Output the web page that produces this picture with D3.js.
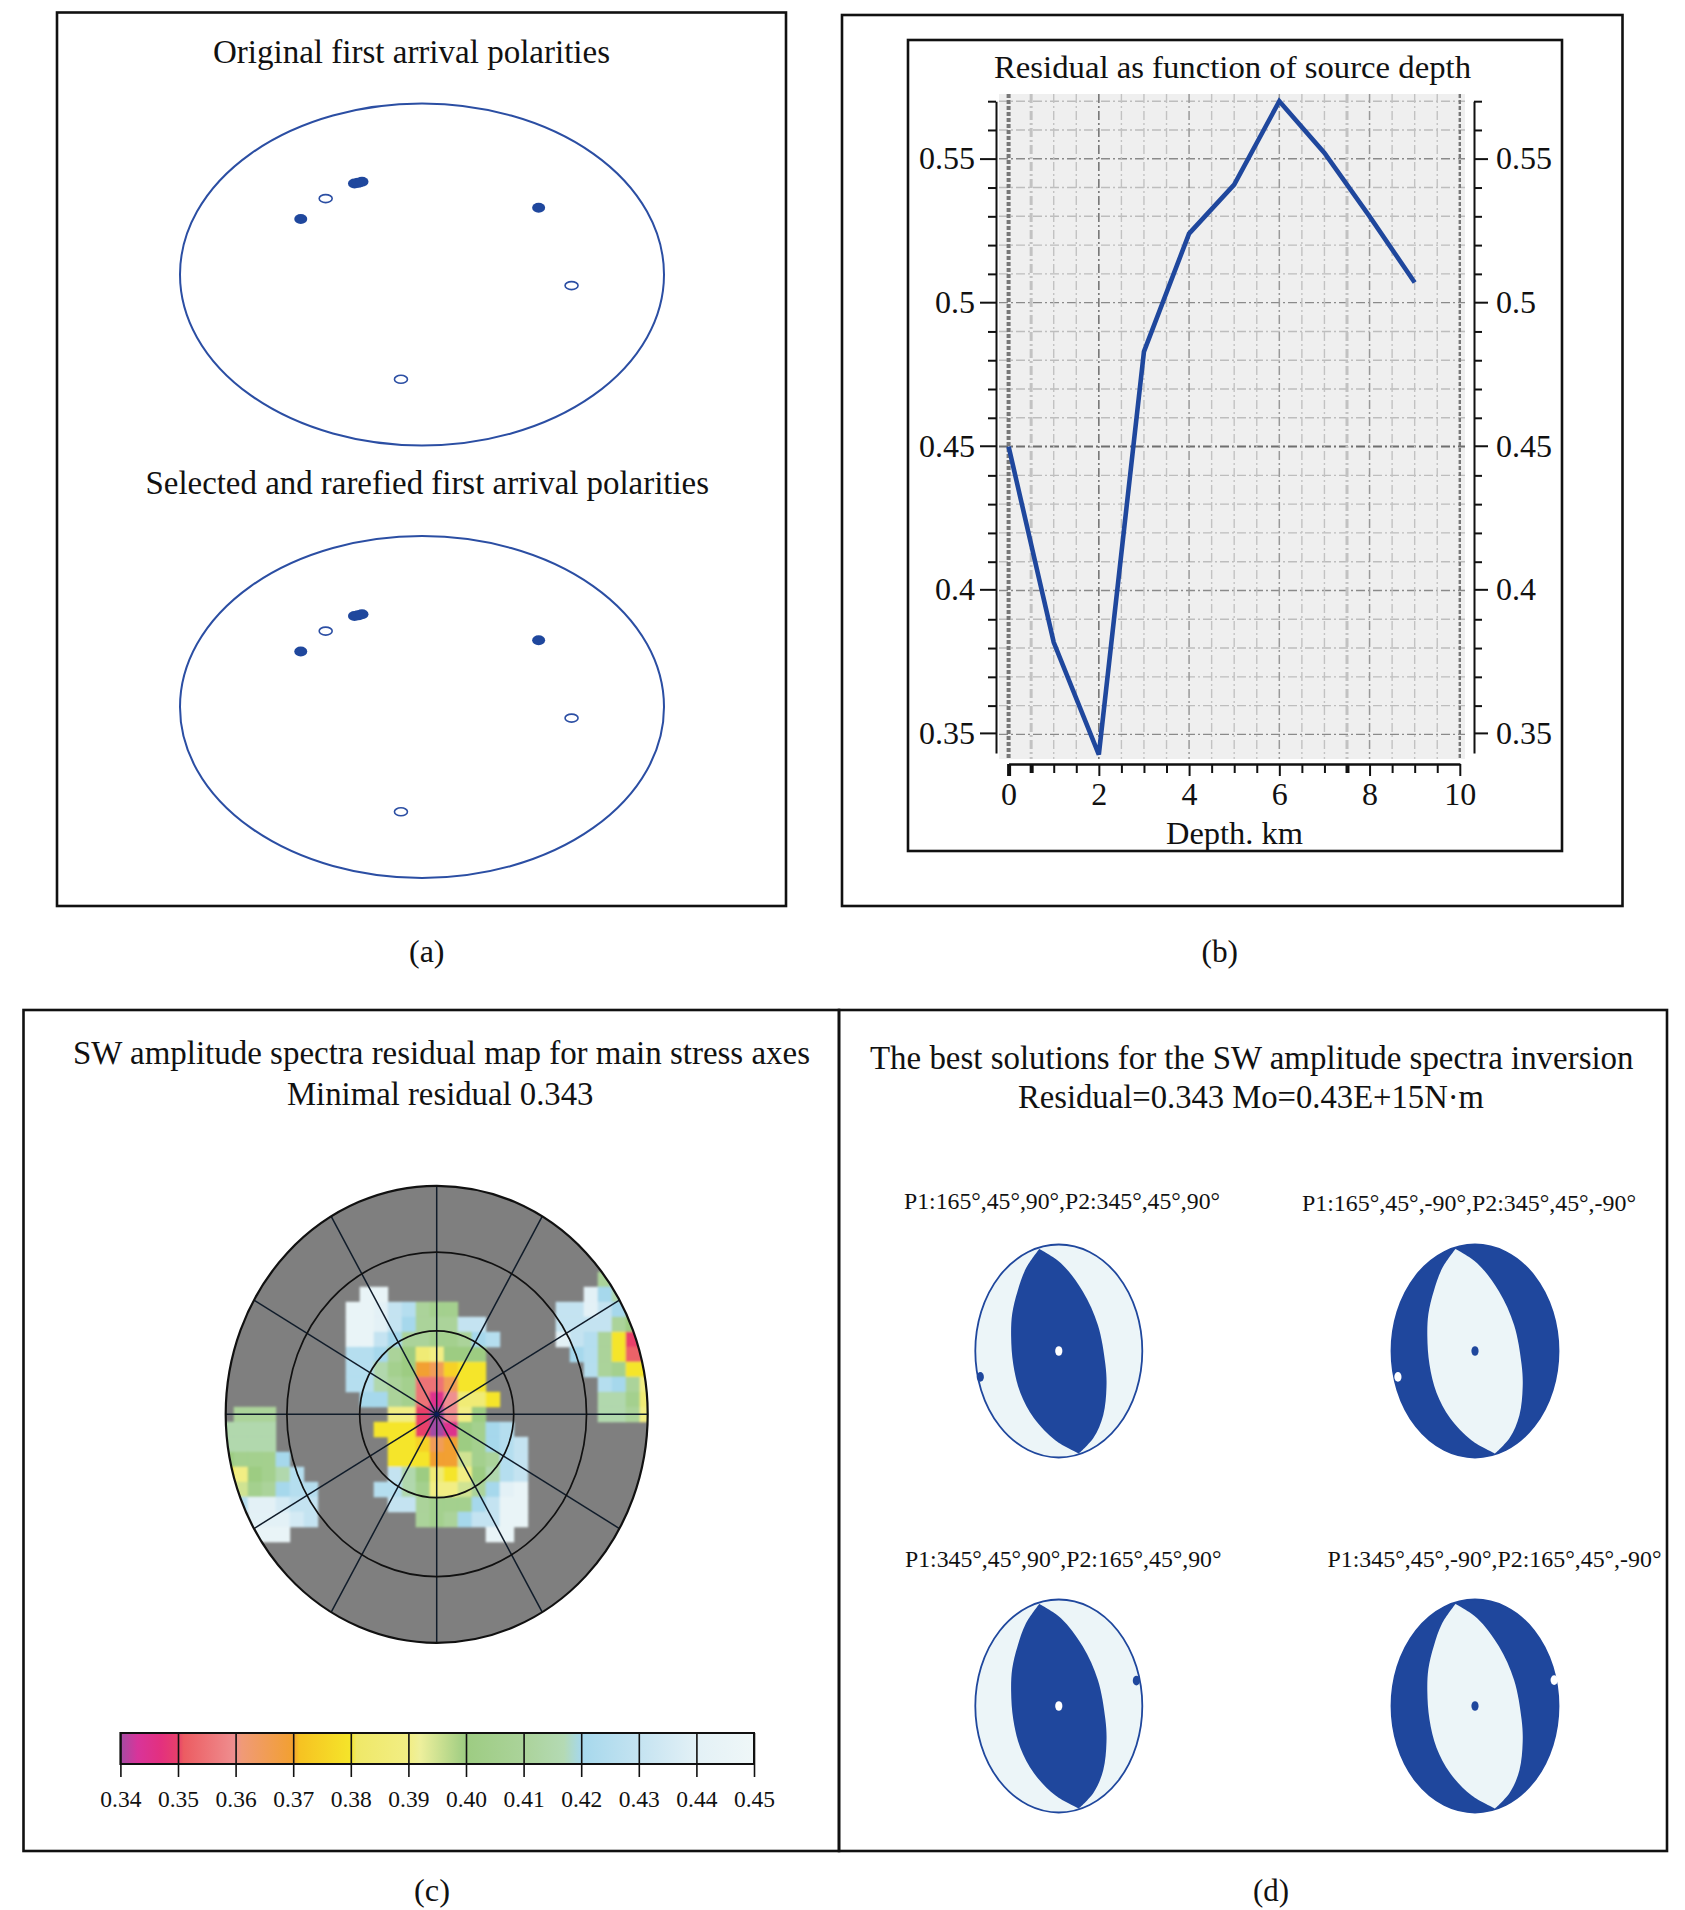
<!DOCTYPE html>
<html>
<head>
<meta charset="utf-8">
<style>
  body { margin: 0; background: #fff; }
  svg { display: block; }
  text { font-family: "Liberation Serif", serif; fill: #111; }
</style>
<script src="https://cdn.jsdelivr.net/npm/d3@7"></script>
</head>
<body>
<div id="chart"></div>
<script>
// panel a: polarities in unit stereonet coordinates
const filledPolarities = [[-0.501, 0.325], [-0.279, 0.532], [-0.264, 0.536], [-0.248, 0.542], [0.482, 0.39]];
const openPolarities = [[-0.398, 0.444], [0.618, -0.065], [-0.087, -0.613]];

// panel b
const depths = [0, 1, 2, 3, 4, 5, 6, 7, 8, 9];
const residuals = [0.45, 0.382, 0.343, 0.483, 0.524, 0.541, 0.57, 0.552, 0.53, 0.507];
const yMajorTicks = [0.35, 0.4, 0.45, 0.5, 0.55];
const yMinorTicks = [0.36, 0.37, 0.38, 0.39, 0.41, 0.42, 0.43, 0.44, 0.46, 0.47, 0.48, 0.49, 0.51, 0.52, 0.53, 0.54, 0.56, 0.57];
const xLabelTicks = [0, 2, 4, 6, 8, 10];
const xMinorTicks = [0.5, 1, 1.5, 2.5, 3, 3.5, 4.5, 5, 5.5, 6.5, 7, 7.5, 8.5, 9, 9.5];

// panel c: runs of residual cells as [row, first column, values]
const residualRuns = [
  [-9, 12, [0.41]],
  [-8, -5, [0.445, 0.445]], [-8, 11, [0.44, 0.42, 0.415]],
  [-7, -6, [0.445, 0.445, 0.44, 0.43, 0.425, 0.41, 0.405, 0.405]], [-7, 9, [0.43, 0.43, 0.44, 0.43, 0.42, 0.41]],
  [-6, -6, [0.445, 0.445, 0.44, 0.43, 0.42, 0.41, 0.41, 0.41, 0.43, 0.43]], [-6, 9, [0.43, 0.43, 0.43, 0.43, 0.41, 0.4]],
  [-5, -6, [0.445, 0.445, 0.43, 0.42, 0.41, 0.41, 0.405, 0.405, 0.41, 0.42, 0.425]], [-5, 9, [0.44, 0.43, 0.425, 0.41, 0.38, 0.35, 0.35]],
  [-4, -6, [0.425, 0.425, 0.42, 0.41, 0.4, 0.385, 0.39, 0.4, 0.4, 0.4]], [-4, 10, [0.42, 0.425, 0.41, 0.38, 0.352, 0.352]],
  [-3, -6, [0.425, 0.425, 0.415, 0.405, 0.4, 0.37, 0.365, 0.375, 0.38, 0.38]], [-3, 11, [0.425, 0.41, 0.405, 0.38, 0.38]],
  [-2, -6, [0.425, 0.425, 0.415, 0.41, 0.405, 0.355, 0.355, 0.365, 0.38, 0.38]], [-2, 12, [0.425, 0.42, 0.41, 0.39]],
  [-1, -5, [0.42, 0.42, 0.41, 0.405, 0.355, 0.345, 0.36, 0.385, 0.385, 0.38]], [-1, 12, [0.415, 0.415, 0.405, 0.385]],
  [0, -14, [0.41, 0.41, 0.41]], [0, -3, [0.39, 0.39, 0.35, 0.34, 0.36, 0.39, 0.4]], [0, 12, [0.415, 0.415, 0.41, 0.39]],
  [1, -15, [0.415, 0.415, 0.415, 0.415]], [1, -4, [0.38, 0.38, 0.38, 0.35, 0.34, 0.345, 0.4, 0.405, 0.42, 0.425]],
  [2, -15, [0.415, 0.415, 0.415, 0.415]], [2, -3, [0.38, 0.38, 0.375, 0.365, 0.37, 0.4, 0.405, 0.42, 0.425, 0.43]],
  [3, -15, [0.4, 0.405, 0.405, 0.405, 0.42]], [3, -3, [0.38, 0.38, 0.38, 0.37, 0.37, 0.395, 0.405, 0.41, 0.425, 0.43]],
  [4, -15, [0.38, 0.39, 0.4, 0.405, 0.415, 0.425]], [4, -3, [0.43, 0.415, 0.4, 0.385, 0.38, 0.39, 0.4, 0.415, 0.425, 0.43]],
  [5, -15, [0.385, 0.395, 0.405, 0.41, 0.42, 0.425, 0.425]], [5, -4, [0.425, 0.425, 0.415, 0.405, 0.39, 0.39, 0.395, 0.41, 0.42, 0.44, 0.445]],
  [6, -14, [0.425, 0.44, 0.44, 0.435, 0.43, 0.43]], [6, -3, [0.43, 0.43, 0.41, 0.405, 0.405, 0.405, 0.42, 0.43, 0.445, 0.445]],
  [7, -13, [0.44, 0.44, 0.44, 0.435, 0.43]], [7, -1, [0.41, 0.405, 0.41, 0.42, 0.43, 0.43, 0.445, 0.445]],
  [8, -13, [0.445, 0.445, 0.445]], [8, 4, [0.445, 0.445]]
];
const radialAngles = [0, 30, 60, 90, 120, 150, 180, 210, 240, 270, 300, 330];
const ringRadii = [0.365, 0.71, 1];
const scaleTicks = [0.34, 0.35, 0.36, 0.37, 0.38, 0.39, 0.4, 0.41, 0.42, 0.43, 0.44, 0.45];
const scaleStops = [0.34, 0.343, 0.347, 0.35, 0.351, 0.36, 0.361, 0.37, 0.371, 0.38, 0.381, 0.39, 0.392, 0.4, 0.41, 0.417, 0.42, 0.43, 0.44, 0.45];
const scaleColors = ['#a44ca4', '#d8349a', '#e3307f', '#e8406a', '#ec5c62', '#ef8f90', '#f09a78', '#f2a030', '#f6c222', '#f5e52a', '#efe868', '#f2ee84', '#eef09c', '#9dcc82', '#abd39a', '#b4dab4', '#a6d8ec', '#c4e3f1', '#e3f1f6', '#eff7f8'];

// panel d: nodal plane edges in unit circle coordinates
const lensLeftEdge = [[-0.234, 0.958], [-0.396, 0.772], [-0.494, 0.561], [-0.558, 0.349], [-0.571, 0.138], [-0.545, -0.127], [-0.461, -0.392], [-0.299, -0.63], [-0.039, -0.841], [0.24, -0.963]];
const lensRightEdge = [[-0.234, 0.958], [0.026, 0.825], [0.286, 0.561], [0.468, 0.243], [0.558, -0.127], [0.571, -0.339], [0.532, -0.603], [0.416, -0.815], [0.24, -0.963]];
const solutionLabels = [
  'P1:165°,45°,90°,P2:345°,45°,90°',
  'P1:165°,45°,-90°,P2:345°,45°,-90°',
  'P1:345°,45°,90°,P2:165°,45°,90°',
  'P1:345°,45°,-90°,P2:165°,45°,-90°'
];
const solutionDarkLens = [true, false, true, false];
const solutionSideDots = [[-0.94, -0.243], [-0.923, -0.243], [0.929, 0.238], [0.948, 0.243]];

const blue = '#1f479d';
const paleBlue = '#ecf5f8';

const svg = d3.select('#chart').append('svg')
  .attr('width', 1685)
  .attr('height', 1910);

// text squeezed to the measured width, the scan is not evenly scaled
function label(x0, x1, baseline, size, str) {
  svg.append('text')
    .attr('x', x0)
    .attr('y', baseline)
    .attr('textLength', x1 - x0)
    .attr('lengthAdjust', 'spacingAndGlyphs')
    .style('font-size', size + 'px')
    .text(str);
}

function frame(x0, y0, x1, y1) {
  svg.append('rect')
    .attr('x', x0).attr('y', y0)
    .attr('width', x1 - x0).attr('height', y1 - y0)
    .attr('fill', 'none').attr('stroke', '#111').attr('stroke-width', 2.6);
}

frame(57, 12.5, 786, 906);
frame(842, 15, 1622.5, 906);
frame(908, 40, 1562, 851);
frame(23.5, 1010, 839, 1851);
frame(839, 1010, 1667, 1851);

label(409, 444.5, 962, 31, '(a)');
label(1201.5, 1238, 962, 31, '(b)');
label(414, 450, 1901, 31, '(c)');
label(1253, 1289, 1901, 31, '(d)');

// ---- panel a
label(213, 610, 62.5, 33, 'Original first arrival polarities');
label(145.5, 709, 494, 33, 'Selected and rarefied first arrival polarities');

[274.5, 707].forEach(cy => {
  const x = d3.scaleLinear().domain([-1, 1]).range([422 - 242, 422 + 242]);
  const y = d3.scaleLinear().domain([-1, 1]).range([cy + 171, cy - 171]);
  const g = svg.append('g');
  g.append('ellipse')
    .attr('cx', x(0)).attr('cy', y(0))
    .attr('rx', x(1) - x(0)).attr('ry', y(-1) - y(0))
    .attr('fill', 'none').attr('stroke', '#2b4ea3').attr('stroke-width', 2);
  g.selectAll('.open').data(openPolarities).enter().append('ellipse')
    .attr('class', 'open')
    .attr('cx', d => x(d[0])).attr('cy', d => y(d[1]))
    .attr('rx', 6.5).attr('ry', 4)
    .attr('fill', '#fff').attr('stroke', '#2b4ea3').attr('stroke-width', 1.6);
  g.selectAll('.filled').data(filledPolarities).enter().append('ellipse')
    .attr('class', 'filled')
    .attr('cx', d => x(d[0])).attr('cy', d => y(d[1]))
    .attr('rx', 6.5).attr('ry', 5)
    .attr('fill', blue);
});

// ---- panel b
label(994, 1471, 78, 32, 'Residual as function of source depth');
label(1166, 1303, 844, 31, 'Depth. km');

const xDepth = d3.scaleLinear().domain([0, 10]).range([1008.6, 1459.8]);
const yRes = d3.scaleLinear().domain([0.35, 0.55]).range([734.4, 158.75]);

svg.append('rect')
  .attr('x', 999).attr('y', 94)
  .attr('width', 466).attr('height', 665)
  .attr('fill', '#efefef');

const grid = svg.append('g').attr('fill', 'none');
const vGrid = (v, color, w, dash) => grid.append('line')
  .attr('x1', xDepth(v)).attr('x2', xDepth(v))
  .attr('y1', 94).attr('y2', 759)
  .attr('stroke', color).attr('stroke-width', w).attr('stroke-dasharray', dash);
const hGrid = (v, color, w) => grid.append('line')
  .attr('x1', 999).attr('x2', 1465)
  .attr('y1', yRes(v)).attr('y2', yRes(v))
  .attr('stroke', color).attr('stroke-width', w).attr('stroke-dasharray', '9,3,2,3');

yMinorTicks.forEach(v => hGrid(v, '#bdbdbd', 1.4));
yMajorTicks.forEach(v => hGrid(v, v === 0.45 ? '#6f6f6f' : '#8a8a8a', v === 0.45 ? 2 : 1.4));
xMinorTicks.forEach(v => vGrid(v, '#c2c2c2', v === 0.5 || v === 7.5 ? 3 : 1.4, '9,3,2,3'));
xLabelTicks.forEach(v => {
  if (v === 0 || v === 10) vGrid(v, '#777', v === 0 ? 4 : 2.4, '4,2');
  else vGrid(v, v === 2 ? '#6f6f6f' : '#999', 1.5, '9,3,2,3');
});

function styleAxis(g) {
  g.select('.domain').attr('stroke', '#111').attr('stroke-width', 2);
  g.selectAll('.tick line').attr('stroke', '#111').attr('stroke-width', 2);
  g.selectAll('text').style('font-size', '32px').attr('fill', '#111')
    .style('font-family', '"Liberation Serif", serif');
}

const yDomainRange = [yRes(0.57), 753];
const yAxisScale = yRes.copy().domain([0.57, 0.343]).range(yDomainRange);

const leftMinor = svg.append('g').attr('transform', 'translate(996,0)')
  .call(d3.axisLeft(yRes).tickValues(yMinorTicks).tickFormat('').tickSize(8).tickSizeOuter(0));
leftMinor.select('.domain').remove();
styleAxis(leftMinor);
svg.append('g').attr('transform', 'translate(996,0)')
  .call(d3.axisLeft(yAxisScale).tickValues(yMajorTicks).tickFormat(d3.format('~g')).tickSize(16).tickSizeOuter(0).tickPadding(5))
  .call(styleAxis);

const rightMinor = svg.append('g').attr('transform', 'translate(1474,0)')
  .call(d3.axisRight(yRes).tickValues(yMinorTicks).tickFormat('').tickSize(8).tickSizeOuter(0));
rightMinor.select('.domain').remove();
styleAxis(rightMinor);
svg.append('g').attr('transform', 'translate(1474,0)')
  .call(d3.axisRight(yAxisScale).tickValues(yMajorTicks).tickFormat(d3.format('~g')).tickSize(14).tickSizeOuter(0).tickPadding(8))
  .call(styleAxis);

const bottomMinor = svg.append('g').attr('transform', 'translate(0,764)')
  .call(d3.axisBottom(xDepth).tickValues(xMinorTicks).tickFormat('').tickSize(9).tickSizeOuter(0));
styleAxis(bottomMinor);
const bottomMajor = svg.append('g').attr('transform', 'translate(0,764)')
  .call(d3.axisBottom(xDepth).tickValues(xLabelTicks).tickFormat(d3.format('d')).tickSize(12).tickSizeOuter(0).tickPadding(6))
  .call(styleAxis);
bottomMajor.selectAll('.tick line').attr('stroke-width', d => d === 0 ? 4 : 2);
bottomMinor.selectAll('.tick line').attr('stroke-width', d => d === 0.5 || d === 7.5 ? 4 : 2);

svg.append('path')
  .datum(d3.zip(depths, residuals))
  .attr('d', d3.line().x(d => xDepth(d[0])).y(d => yRes(d[1])))
  .attr('fill', 'none')
  .attr('stroke', blue)
  .attr('stroke-width', 4.6)
  .attr('stroke-linejoin', 'miter');

// ---- panel c
label(73, 810, 1064, 33, 'SW amplitude spectra residual map for main stress axes');
label(287, 593.5, 1105, 33, 'Minimal residual 0.343');

const mapX = d3.scaleLinear().domain([-15, 15]).range([436.7 - 210, 436.7 + 210]);
const mapY = d3.scaleLinear().domain([-15, 15]).range([1414.3 - 225, 1414.3 + 225]);
const mapR = d3.scaleLinear().domain([-1, 1]).range([436.7 - 211, 436.7 + 211]);
const mapS = d3.scaleLinear().domain([-1, 1]).range([1414.3 + 228.5, 1414.3 - 228.5]);
const residualColor = d3.scaleLinear().domain(scaleStops).range(scaleColors).clamp(true);

const defs = svg.append('defs');
defs.append('clipPath').attr('id', 'map-clip')
  .append('ellipse')
  .attr('cx', mapR(0)).attr('cy', mapS(0))
  .attr('rx', mapR(1) - mapR(0)).attr('ry', mapS(-1) - mapS(0));
defs.append('filter').attr('id', 'cell-blur')
  .append('feGaussianBlur').attr('stdDeviation', 1.3);

const cells = residualRuns.flatMap(([row, col, vals]) => vals.map((v, k) => ({ row, col: col + k, v })));
const mapG = svg.append('g').attr('clip-path', 'url(#map-clip)');
mapG.append('ellipse')
  .attr('cx', mapR(0)).attr('cy', mapS(0))
  .attr('rx', mapR(1) - mapR(0)).attr('ry', mapS(-1) - mapS(0))
  .attr('fill', '#7f7f7f');
mapG.append('g').attr('filter', 'url(#cell-blur)')
  .selectAll('rect').data(cells).enter().append('rect')
  .attr('x', d => mapX(d.col - 0.5))
  .attr('y', d => mapY(d.row - 0.5))
  .attr('width', mapX(1) - mapX(0) + 0.5)
  .attr('height', mapY(1) - mapY(0) + 0.5)
  .attr('fill', d => residualColor(d.v));

svg.selectAll('.spoke').data(radialAngles).enter().append('line')
  .attr('class', 'spoke')
  .attr('x1', mapR(0)).attr('y1', mapS(0))
  .attr('x2', d => mapR(Math.sin(d * Math.PI / 180)))
  .attr('y2', d => mapS(Math.cos(d * Math.PI / 180)))
  .attr('stroke', '#101c2a').attr('stroke-width', 1.5);
svg.selectAll('.ring').data(ringRadii).enter().append('ellipse')
  .attr('class', 'ring')
  .attr('cx', mapR(0)).attr('cy', mapS(0))
  .attr('rx', d => mapR(d) - mapR(0)).attr('ry', d => mapS(-d) - mapS(0))
  .attr('fill', 'none').attr('stroke', '#111')
  .attr('stroke-width', d => d === 1 ? 2.2 : 1.7);
svg.append('circle')
  .attr('cx', mapR(0)).attr('cy', mapS(0)).attr('r', 2.5)
  .attr('fill', '#0b1c55');

// colour scale
const barX = d3.scaleLinear().domain([0.34, 0.45]).range([120.4, 754]);
const grad = defs.append('linearGradient').attr('id', 'bar-grad');
grad.selectAll('stop').data(scaleStops).enter().append('stop')
  .attr('offset', d => (d - 0.34) / 0.11)
  .attr('stop-color', d => residualColor(d));
svg.append('rect')
  .attr('x', barX(0.34)).attr('y', 1733)
  .attr('width', barX(0.45) - barX(0.34)).attr('height', 31)
  .attr('fill', 'url(#bar-grad)')
  .attr('stroke', '#111').attr('stroke-width', 2);
const barAxis = svg.append('g').attr('transform', 'translate(0,1733)')
  .call(d3.axisBottom(barX).tickValues(scaleTicks).tickFormat(d3.format('.2f')).tickSize(44).tickSizeOuter(0));
barAxis.select('.domain').remove();
barAxis.selectAll('.tick line').attr('stroke', '#111').attr('stroke-width', 1.6);
barAxis.selectAll('text')
  .attr('y', 74).attr('dy', 0)
  .attr('fill', '#111')
  .style('font-size', '23.5px')
  .style('font-family', '"Liberation Serif", serif');

// ---- panel d
label(870, 1633.5, 1068.5, 33, 'The best solutions for the SW amplitude spectra inversion');
label(1018, 1484, 1108, 33, 'Residual=0.343 Mo=0.43E+15N·m');

const ballCentres = [[1058.8, 1351], [1475, 1351], [1058.8, 1706], [1475, 1706]];
const labelSpans = [[904, 1220, 1209], [1302, 1636, 1211], [905, 1221.5, 1567], [1327.5, 1661.5, 1567]];

solutionLabels.forEach((name, i) => {
  label(labelSpans[i][0], labelSpans[i][1], labelSpans[i][2], 22.5, name);

  const [cx, cy] = ballCentres[i];
  const x = d3.scaleLinear().domain([-1, 1]).range([cx - 83.5, cx + 83.5]);
  const y = d3.scaleLinear().domain([-1, 1]).range([cy + 106.5, cy - 106.5]);
  const edge = d3.line().x(d => x(d[0])).y(d => y(d[1])).curve(d3.curveCatmullRom);
  const dark = solutionDarkLens[i];

  svg.append('ellipse')
    .attr('cx', cx).attr('cy', cy)
    .attr('rx', 83.5).attr('ry', 106.5)
    .attr('fill', dark ? paleBlue : blue)
    .attr('stroke', blue).attr('stroke-width', 1.8);
  svg.append('path')
    .attr('d', edge(lensLeftEdge) + 'L' + edge(lensRightEdge.slice().reverse()).slice(1) + 'Z')
    .attr('fill', dark ? blue : paleBlue);
  svg.append('ellipse')
    .attr('cx', x(0)).attr('cy', y(0))
    .attr('rx', 3.6).attr('ry', 4.8)
    .attr('fill', dark ? '#fff' : blue);
  svg.append('ellipse')
    .attr('cx', x(solutionSideDots[i][0])).attr('cy', y(solutionSideDots[i][1]))
    .attr('rx', 3.6).attr('ry', 4.8)
    .attr('fill', dark ? blue : '#fff');
});
</script>
</body>
</html>
